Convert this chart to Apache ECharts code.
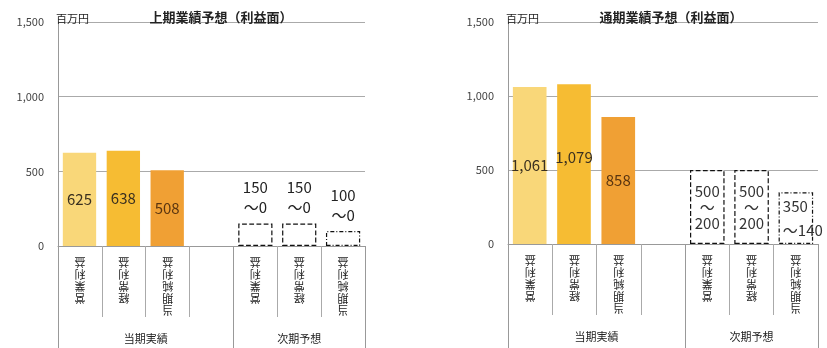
<!DOCTYPE html>
<html>
<head>
<meta charset="utf-8">
<script src="https://cdn.jsdelivr.net/npm/echarts@6/dist/echarts.min.js"></script>
<style>html,body{margin:0;padding:0;background:#fff;}#c{width:827px;height:348px;}</style>
</head>
<body>
<div id="c"></div>
<script>
const categories = ['営業利益', '経常利益', '当期純利益', '', '営業利益', '経常利益', '当期純利益'];
const groupLabels = ['当期実績', '次期予想'];
const groupBounds = [0, 4, 7];
const groupCenters = [2, 5.5];
const yTicks = [0, 500, 1000, 1500];
const titles = ['上期業績予想（利益面）', '通期業績予想（利益面）'];
const unitLabel = '百万円';
const h1Actual = [625, 638, 508];
const h1ForecastHigh = [150, 150, 100];
const h1ForecastLow = [0, 0, 0];
const fyActual = [1061, 1079, 858];
const fyForecastHigh = [500, 500, 350];
const fyForecastLow = [200, 200, 140];

const FONT = '"Noto Sans CJK JP", "Noto Sans", sans-serif';
const barColors = ['#F9D779', '#F6BC33', '#F0A034'];
const labelColors = ['#3a3020', '#3a3020', '#5a3510'];
const dashTypes = ['dashed', 'dashed', [4, 2, 1, 2]];

function fmt(v) { return v.toLocaleString('en-US'); }

function actualData(vals, offsets) {
  const d = vals.map((v, i) => ({
    value: v,
    itemStyle: { color: barColors[i] },
    label: { color: labelColors[i], offset: offsets ? offsets[i] : [0, 0] }
  }));
  return d.concat(['-', '-', '-', '-']);
}

function forecastData(hi, lo, inside) {
  const d = hi.map((v, i) => ({
    value: v,
    lo: lo[i],
    itemStyle: { borderType: dashTypes[i] },
    label: inside && i === 2 ? { lineHeight: 24, align: 'left', offset: [-13, 0] } : {}
  }));
  return ['-', '-', '-', '-'].concat(d);
}

const chart = echarts.init(document.getElementById('c'), null, { renderer: 'canvas' });

const grids = [
  { left: 58, right: 827 - 365, top: 22, bottom: 348 - 246 },
  { left: 508, right: 827 - 818, top: 22, bottom: 348 - 244 }
];

const xAxes = [];
const yAxes = [];
const series = [];
[0, 1].forEach(g => {
  xAxes.push({
    type: 'category', gridIndex: g, data: categories, position: 'bottom',
    axisLine: { show: true, lineStyle: { color: '#999', width: 1 } },
    axisTick: { show: true, interval: 0, length: 71, lineStyle: { color: '#aaa' } },
    axisLabel: {
      interval: 0, rotate: 180, margin: 10, fontSize: 11, lineHeight: 12,
      color: '#222', fontFamily: FONT,
      formatter: v => v.split('').join('\n')
    }
  });
  xAxes.push({
    type: 'value', gridIndex: g, min: 0, max: 7, position: 'bottom',
    axisLine: { show: false }, splitLine: { show: false },
    axisTick: { show: true, customValues: groupBounds, length: 110, lineStyle: { color: '#999' } },
    axisLabel: {
      customValues: groupCenters, margin: 87, fontSize: 11, color: '#222', fontFamily: FONT,
      formatter: v => groupLabels[groupCenters.indexOf(v)]
    }
  });
  yAxes.push({
    type: 'value', gridIndex: g, min: 0, max: 1500, interval: 500,
    axisLine: { show: true, lineStyle: { color: '#999' } },
    axisTick: { show: false },
    splitLine: { show: true, lineStyle: { color: '#aaa' } },
    axisLabel: { fontSize: 11, color: '#444', fontFamily: FONT, margin: 14, formatter: v => fmt(v) }
  });
});

series.push({
  type: 'bar', xAxisIndex: 0, yAxisIndex: 0, barWidth: '76%', barGap: '-100%',
  data: actualData(h1Actual),
  label: { show: true, position: 'inside', fontSize: 15, fontFamily: FONT, formatter: p => fmt(p.value) },
  z: 3
});
series.push({
  type: 'bar', xAxisIndex: 0, yAxisIndex: 0, barWidth: '78%',
  data: forecastData(h1ForecastHigh, h1ForecastLow, false),
  itemStyle: { color: '#fff', borderColor: '#111', borderWidth: 1.2 },
  label: {
    show: true, position: 'top', distance: 6, fontSize: 15, lineHeight: 20, color: '#222', fontFamily: FONT,
    formatter: p => fmt(p.data.value) + '\n～' + fmt(p.data.lo)
  },
  z: 3
});
series.push({
  type: 'bar', xAxisIndex: 2, yAxisIndex: 1, barWidth: '76%', barGap: '-100%',
  data: actualData(fyActual, [[0, 0], [0, -7], [0, 0]]),
  label: { show: true, position: 'inside', fontSize: 15, fontFamily: FONT, formatter: p => fmt(p.value) },
  z: 3
});
series.push({
  type: 'bar', xAxisIndex: 2, yAxisIndex: 1, barWidth: '78%',
  data: forecastData(fyForecastHigh, fyForecastLow, true),
  itemStyle: { color: '#fff', borderColor: '#111', borderWidth: 1.2 },
  label: {
    show: true, position: 'inside', fontSize: 15, lineHeight: 16, color: '#333', fontFamily: FONT,
    formatter: p => p.dataIndex === 6
      ? fmt(p.data.value) + '\n～' + fmt(p.data.lo)
      : fmt(p.data.value) + '\n～\n' + fmt(p.data.lo)
  },
  z: 3
});

chart.setOption({
  animation: false,
  backgroundColor: '#fff',
  title: [
    { text: unitLabel, left: 51, top: 8, textStyle: { fontSize: 11, fontWeight: 'normal', color: '#222', fontFamily: FONT } },
    { text: titles[0], left: 216, top: 6, textAlign: 'center', textStyle: { fontSize: 13, fontWeight: 'bold', color: '#222', fontFamily: FONT } },
    { text: unitLabel, left: 501, top: 8, textStyle: { fontSize: 11, fontWeight: 'normal', color: '#222', fontFamily: FONT } },
    { text: titles[1], left: 666, top: 6, textAlign: 'center', textStyle: { fontSize: 13, fontWeight: 'bold', color: '#222', fontFamily: FONT } }
  ],
  grid: grids,
  xAxis: xAxes,
  yAxis: yAxes,
  series: series
});
</script>
</body>
</html>
